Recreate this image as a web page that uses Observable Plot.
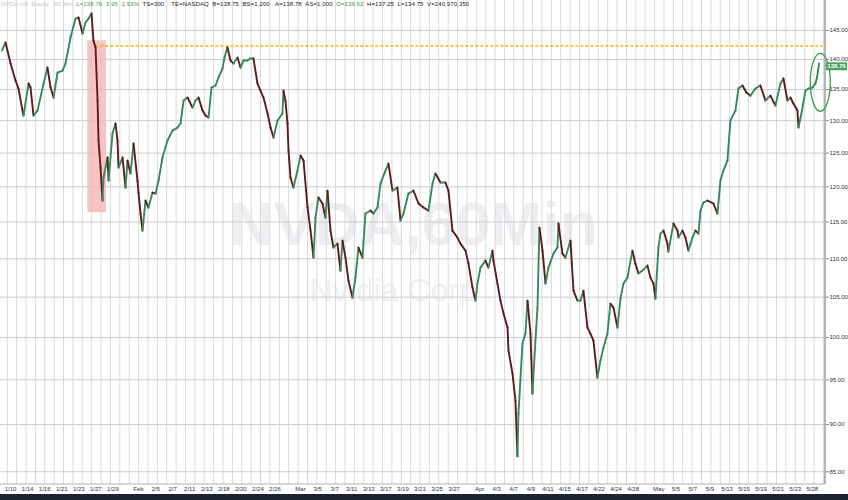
<!DOCTYPE html>
<html><head><meta charset="utf-8">
<script src="https://cdn.jsdelivr.net/npm/d3@7"></script>
<script src="https://cdn.jsdelivr.net/npm/@observablehq/plot@0.6"></script>
<style>
html,body{margin:0;padding:0;background:#fff;}
#wrap{position:relative;width:848px;height:500px;overflow:hidden;font-family:"Liberation Sans",Arial,sans-serif;}
#chart svg{display:block;}
#hdr{position:absolute;left:1px;top:1px;font-size:6px;line-height:7px;white-space:nowrap;color:#222;letter-spacing:0.1px;}
#strip{position:absolute;left:0;top:494px;width:848px;height:6px;background:#1d2331;}
</style></head><body>
<div id="wrap"><div id="chart"></div>
<div id="hdr"><span style="color:#c4c4c4">NVDA US &nbsp;Equity &nbsp;&nbsp;60 Min</span>&nbsp;&nbsp;<span style="color:#3b9a55">L=138.76 &nbsp;3.95 &nbsp;2.93%</span>&nbsp;&nbsp;TS=300 &nbsp;&nbsp;&nbsp;TE=NASDAQ &nbsp;B=138.75 &nbsp;BS=1,200 &nbsp;&nbsp;A=138.78 &nbsp;AS=1,000 &nbsp;<span style="color:#3b9a55">O=136.62</span> &nbsp;H=137.25 &nbsp;L=134.75 &nbsp;V=240,970,350</div>
<div id="strip"></div></div>
<script>
// trading-session position (0 = Jan 8 2025, 1 trading day per unit) and NVDA price
const sessionT = [0,0.41,1.00,1.58,1.93,2.40,2.52,3.11,3.34,3.69,4.16,4.87,5.33,5.69,6.04,6.51,7.09,7.44,8.03,8.62,8.97,9.44,9.79,10.14,10.49,10.72,10.96,
11.20,11.31,11.55,11.78,11.90,12.37,12.49,12.95,13.31,13.54,13.66,14.13,14.48,14.71,15.06,15.42,15.88,16.00,16.24,16.47,16.82,17.17,17.64,18.00,18.35,18.81,19.40,19.99,20.57,20.93,21.28,21.75,22.33,22.68,23.04,23.50,23.86,24.21,24.56,25.03,25.38,25.85,26.08,26.43,26.79,27.14,27.61,27.96,28.31,28.78,29.13,29.48,29.95,30.30,30.66,31.13,31.48,31.83,32.30,32.88,33.00,33.23,33.47,33.59,33.82,34.17,34.64,35.00,35.35,35.82,36.17,36.52,36.75,37.10,37.57,37.92,38.16,38.51,38.86,39.33,39.68,39.92,40.27,40.62,41.09,41.44,41.79,42.26,42.61,43.20,43.55,44.02,44.37,44.96,45.31,45.78,46.36,46.72,47.07,47.65,48.24,48.83,49.41,50.00,50.47,50.82,51.41,51.99,52.34,52.81,53.40,53.75,54.34,54.69,55.16,55.51,55.74,56.10,56.68,57.03,57.50,57.62,58.09,58.44,58.80,59.27,59.38,59.85,60.20,60.43,60.55,61.02,61.37,61.61,61.96,62.19,62.54,62.78,63.01,63.37,63.72,64.07,64.65,65.12,65.24,65.71,66.06,66.65,67.00,67.47,67.82,68.17,68.64,68.99,69.34,69.81,70.16,70.52,70.98,71.33,71.69,72.16,72.51,72.86,73.33,73.91,74.26,74.62,75.09,75.67,76.02,76.38,76.61,76.96,77.20,77.55,78.02,78.13,78.72,79.19,79.31,79.78,80.13,80.48,80.95,81.30,81.66,81.89,82.24,82.71,83.41,83.88,84.23,84.58,85.05,85.40,85.99,86.34,86.81,87.28,87.75,88.33,88.92,89.51,90.09,90.68,91.27,91.62,92.09,92.44,92.79,93.26,93.38,93.73,94.20,94.55,95.02,95.37,95.56,95.79];
const price = [141.52,142.9,139.31,136.47,135.15,131.60,130.81,135.98,135.32,130.81,131.60,135.98,138.63,135.32,133.69,137.8,138.13,139.31,143.77,147.1,147.29,144.46,146.4,147.1,148.0,143.24,142.03,
133.20,126.91,122.83,118.02,121.35,124.33,120.91,127.99,129.55,126.91,122.83,124.33,119.89,123.87,121.94,126.45,120.91,119.17,116.18,113.81,118.02,117.03,119.17,119.02,120.91,124.33,126.91,128.45,128.92,129.55,133.20,133.69,132.08,133.20,133.69,131.60,130.81,130.5,135.32,135.65,136.97,138.47,140.32,142.03,139.81,139.31,140.32,138.63,139.81,139.81,140.15,140.15,135.98,134.82,133.69,131.13,128.92,127.37,130.02,131.13,134.82,133.20,129.55,125.38,121.35,119.89,122.38,124.63,123.87,117.03,113.81,110.15,115.61,118.45,117.6,115.61,119.45,113.81,111.49,112.03,108.43,112.44,110.15,107.12,104.94,107.51,111.49,110.15,116.18,116.60,116.18,117.03,120.47,122.38,123.42,119.45,119.89,115.19,116.18,119.02,119.45,117.60,117.03,116.60,120.47,121.94,120.62,120.62,119.45,113.81,112.85,112.03,111.08,109.35,106.22,104.56,106.73,108.82,109.75,108.82,111.08,109.75,106.73,104.56,102.93,101.20,98.42,95.72,92.64,86.6,91.20,99.26,100.47,104.56,100.47,93.43,99.62,103.68,114.22,111.08,106.73,108.82,110.68,111.49,114.78,110.68,110.15,112.44,105.83,104.56,104.56,105.83,101.20,100.47,99.62,95.26,97.24,98.78,100.47,104.18,103.68,101.20,104.81,106.73,107.51,111.08,109.35,108.04,108.43,109.09,107.51,106.73,104.81,111.49,113.40,113.81,112.03,110.95,114.78,113.81,112.85,113.81,112.85,111.08,112.85,113.81,113.40,116.60,117.74,118.02,117.6,116.18,120.91,122.38,123.87,130.02,131.60,135.15,135.65,134.5,134.0,135.15,135.65,133.20,134.0,132.4,135.98,136.8,133.20,133.69,132.72,131.60,128.92,131.13,134.82,135.15,135.32,135.98,136.97,139.31];

const priceTicks = [145,140,135,130,125,120,115,110,105,100,95,90,85];
const labelDays = [1,3,5,7,9,11,13,16,18,20,22,24,26,28,30,32,35,37,39,41,43,45,47,49,51,53,56,58,60,62,64,66,68,70,72,74,77,79,81,83,85,87,89,91,93,95];
const labelText = ["1/10","1/14","1/16","1/21","1/23","1/27","1/29","Feb","2/5","2/7","2/11","2/13","2/18","2/20","2/24","2/26","Mar","3/5","3/7","3/11","3/13","3/17","3/19","3/21","3/25","3/27","Apr","4/3","4/7","4/9","4/11","4/15","4/17","4/22","4/24","4/28","May","5/5","5/7","5/9","5/13","5/15","5/19","5/21","5/23","5/28"];
const priorLevel = 142.3;           // pre-DeepSeek level (dotted)
const shockZone = {t1: 10.06, t2: 12.25, p1: 116.3, p2: 143.2};
const lastPrice = 138.76;
const highlight = {t: 96.0, p: 136.1};

const segs = sessionT.slice(1).map((t, i) => ({t0: sessionT[i], p0: price[i], t1: t, p1: price[i + 1], up: price[i + 1] >= price[i]}));
const labelMap = new Map(labelDays.map((d, i) => [d, labelText[i]]));
const gridT = d3.range(0.61, 96.5, 1.10);
const xDomain = [-0.18, 96.55];

const chart = Plot.plot({
  width: 848, height: 494,
  marginLeft: 0, marginRight: 23, marginTop: 0, marginBottom: 10,
  x: {domain: xDomain, axis: null},
  y: {type: "log", domain: [83.7, 150.35], axis: null},
  style: {fontFamily: "Liberation Sans, Arial, sans-serif", background: "#fff", overflow: "visible"},
  marks: [
    Plot.text(["NVDA,60Min"], {text: d => d, frameAnchor: "middle", dy: -17, fontSize: 62, fontWeight: "bold", fill: "#eceef2"}),
    Plot.text(["Nvidia Corp"], {text: d => d, frameAnchor: "middle", dx: -20, dy: 48, fontSize: 32, fill: "#eef0f3"}),
    Plot.ruleX(gridT, {stroke: "#d9d9d9", strokeWidth: 1}),
    Plot.ruleY(priceTicks, {stroke: "#cdcdcd", strokeWidth: 1}),
    Plot.rect([shockZone], {x1: "t1", x2: "t2", y1: "p1", y2: "p2", fill: "#f5b4b4", fillOpacity: 0.8}),
    Plot.ruleY([priorLevel], {x1: 11.0, x2: 96.3, stroke: "#f2b705", strokeWidth: 1.6, strokeDasharray: "3,2"}),
    Plot.link(segs, {x1: "t0", y1: "p0", x2: "t1", y2: "p1", stroke: d => d.up ? "#37885c" : "#5c1c1f", strokeWidth: 1.9, strokeLinecap: "round"}),
    (index, scales, values, dim) => {
      const g = d3.create("svg:g");
      const xr = dim.width - dim.marginRight, yb = dim.height - dim.marginBottom;
      g.append("line").attr("x1", xr).attr("x2", xr).attr("y1", 0).attr("y2", yb).attr("stroke", "#9c9c9c").attr("stroke-width", 1.5);
      g.append("line").attr("x1", 0).attr("x2", xr).attr("y1", yb).attr("y2", yb).attr("stroke", "#b0b0b0");
      g.append("ellipse").attr("cx", scales.x(highlight.t)).attr("cy", scales.y(highlight.p)).attr("rx", 10).attr("ry", 29)
        .attr("fill", "none").attr("stroke", "#3d9a4b").attr("stroke-width", 1.3);
      const yl = scales.y(lastPrice);
      g.append("rect").attr("x", xr + 1).attr("y", yl - 4).attr("width", 21).attr("height", 8).attr("fill", "#47a363");
      g.append("text").attr("x", xr + 11.5).attr("y", yl + 2).attr("text-anchor", "middle").attr("font-size", 6).attr("fill", "#fff").attr("font-weight", "bold").text(lastPrice.toFixed(2));
      return g.node();
    },
    Plot.axisY(priceTicks, {anchor: "right", tickFormat: d => d.toFixed(2), fontSize: 6, tickSize: 3, tickPadding: 1, stroke: "#888", fill: "#333"}),
    Plot.axisX(labelDays, {anchor: "bottom", tickFormat: d => labelMap.get(d), tickSize: 0, tickPadding: 2.5, fontSize: 6, fill: "#333"})
  ]
});
document.getElementById("chart").appendChild(chart);
</script>
</body></html>
